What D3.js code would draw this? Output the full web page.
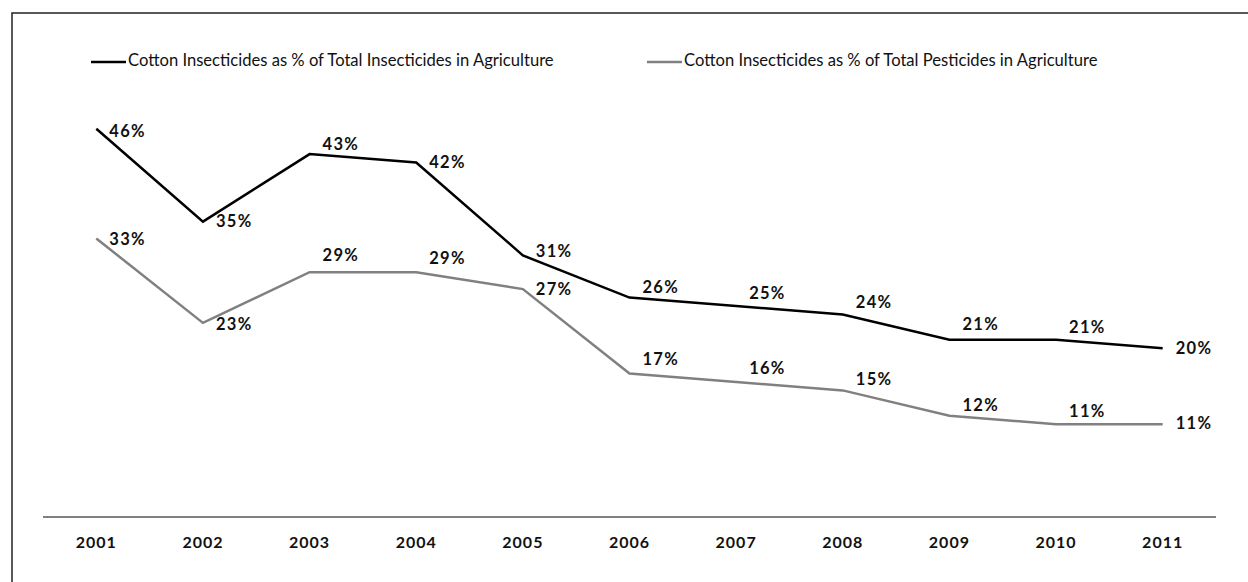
<!DOCTYPE html>
<html>
<head>
<meta charset="utf-8">
<script src="https://cdn.jsdelivr.net/npm/d3@7"></script>
<style>
  body { margin: 0; background: #fff; }
  text { font-family: Lato, "Noto Sans", sans-serif; fill: #111; }
</style>
</head>
<body>
<div id="canvas"></div>
<script>
"use strict"

// DATA
let years = ["2001", "2002", "2003", "2004", "2005", "2006", "2007", "2008", "2009", "2010", "2011"]
let insecticidesShare = [46, 35, 43, 42, 31, 26, 25, 24, 21, 21, 20]
let pesticidesShare = [33, 23, 29, 29, 27, 17, 16, 15, 12, 11, 11]
let seriesNames = [
  "Cotton Insecticides as % of Total Insecticides in Agriculture",
  "Cotton Insecticides as % of Total Pesticides in Agriculture"
]

/* layout */
let svgWidth = 1248;
let svgHeight = 582;

// vertical nudges of the value labels (px), so they don't sit on the lines
let blackLabelShift = [4, 1, -8, 1, -3, -9, -11, -11, -14, -11, 2]
let greyLabelShift = [2, 3, -15, -12, 2, -13, -12, -10, -9, -11, 1]

let svg = d3.select("#canvas")
  .append("svg")
  .attr("width", svgWidth)
  .attr("height", svgHeight);

// outer border
svg.append("rect")
  .attr("x", 12)
  .attr("y", 13)
  .attr("width", svgWidth)
  .attr("height", svgHeight)
  .attr("fill", "none")
  .attr("stroke", "#222")
  .attr("stroke-width", 1.5)

// scales
let xScale = d3.scalePoint()
  .domain(years)
  .range([43, 1216])
  .padding(0.5)

let yScale = d3.scaleLinear()
  .domain([0, 50])
  .range([517, 95])

// x axis line
svg.append("line")
  .attr("x1", 43)
  .attr("x2", 1216)
  .attr("y1", yScale(0))
  .attr("y2", yScale(0))
  .attr("stroke", "#808080")
  .attr("stroke-width", 2)

// year labels
svg.selectAll(".year")
  .data(years)
  .join("text")
  .attr("class", "year")
  .attr("x", d => xScale(d))
  .attr("y", 544)
  .style("text-anchor", "middle")
  .style("dominant-baseline", "middle")
  .style("font-size", "16px")
  .style("letter-spacing", "1px")
  .style("font-weight", "bold")
  .text(d => d)

let line = d3.line()
  .x((d, i) => xScale(years[i]))
  .y(d => yScale(d))

function drawSeries(values, color, shifts) {
  svg.append("path")
    .datum(values)
    .attr("d", line)
    .attr("fill", "none")
    .attr("stroke", color)
    .attr("stroke-width", 2.5)
    .attr("stroke-linejoin", "miter")

  svg.append("g")
    .selectAll("text")
    .data(values)
    .join("text")
    .attr("x", (d, i) => xScale(years[i]) + 13)
    .attr("y", (d, i) => yScale(d) + shifts[i])
    .style("dominant-baseline", "middle")
    .style("font-size", "16.5px")
    .style("letter-spacing", "1.3px")
    .style("font-weight", "bold")
    .text(d => d + "%")
}

drawSeries(pesticidesShare, "#808080", greyLabelShift)
drawSeries(insecticidesShare, "#000", blackLabelShift)

// LEGEND
let legendX = [91, 647]
let legendColors = ["#000", "#808080"]
for (let i = 0; i < seriesNames.length; i++) {
  svg.append("line")
    .attr("x1", legendX[i])
    .attr("x2", legendX[i] + 35)
    .attr("y1", 62)
    .attr("y2", 62)
    .attr("stroke", legendColors[i])
    .attr("stroke-width", 2.5)

  svg.append("text")
    .attr("x", legendX[i] + 37)
    .attr("y", 62)
    .style("dominant-baseline", "middle")
    .style("font-size", "16.6px")
    .text(seriesNames[i])
}
</script>
</body>
</html>
